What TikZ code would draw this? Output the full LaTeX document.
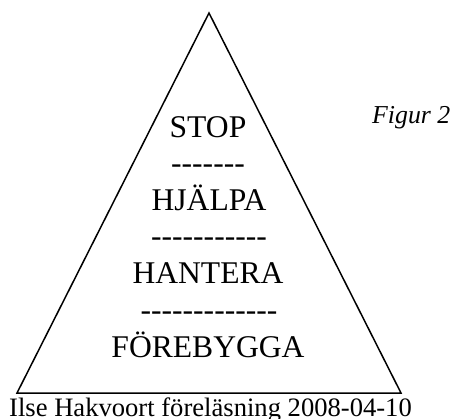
\documentclass[tikz,border=0pt]{standalone}
\usepackage{fontspec}
\setmainfont{Liberation Serif}[Ligatures=TeXOff]
\begin{document}
\begin{tikzpicture}[x=1pt,y=-1pt,
  level/.style={anchor=base,inner sep=0pt,font=\fontsize{31.6}{36}\selectfont},
  small/.style={inner sep=0pt,font=\fontsize{26.6}{30}\selectfont}]
\useasboundingbox (0,0) rectangle (454,419);
\coordinate (apex) at (209,13);
\coordinate (bl) at (17,393);
\coordinate (br) at (401,393);
\draw[line width=1.5pt,line join=miter] (apex) -- (br) -- (bl) -- cycle;
\node[level] (stop) at (208,137.5) {STOP};
\node[level] (d1) at (208,174) {-------};
\node[level] (hjalpa) at (209,210.5) {HJÄLPA};
\node[level] (d2) at (209,247) {-----------};
\node[level] (hantera) at (208,283.7) {HANTERA};
\node[level] (d3) at (209,320.5) {-------------};
\node[level] (forebygga) at (208,357) {FÖREBYGGA};
\node[small,anchor=base west,font=\fontsize{25.8}{30}\selectfont\itshape] (fig) at (372,124) {Figur 2};
\node[small,anchor=base] (credit) at (210.5,416.5) {Ilse Hakvoort föreläsning 2008-04-10};
\end{tikzpicture}
\end{document}
